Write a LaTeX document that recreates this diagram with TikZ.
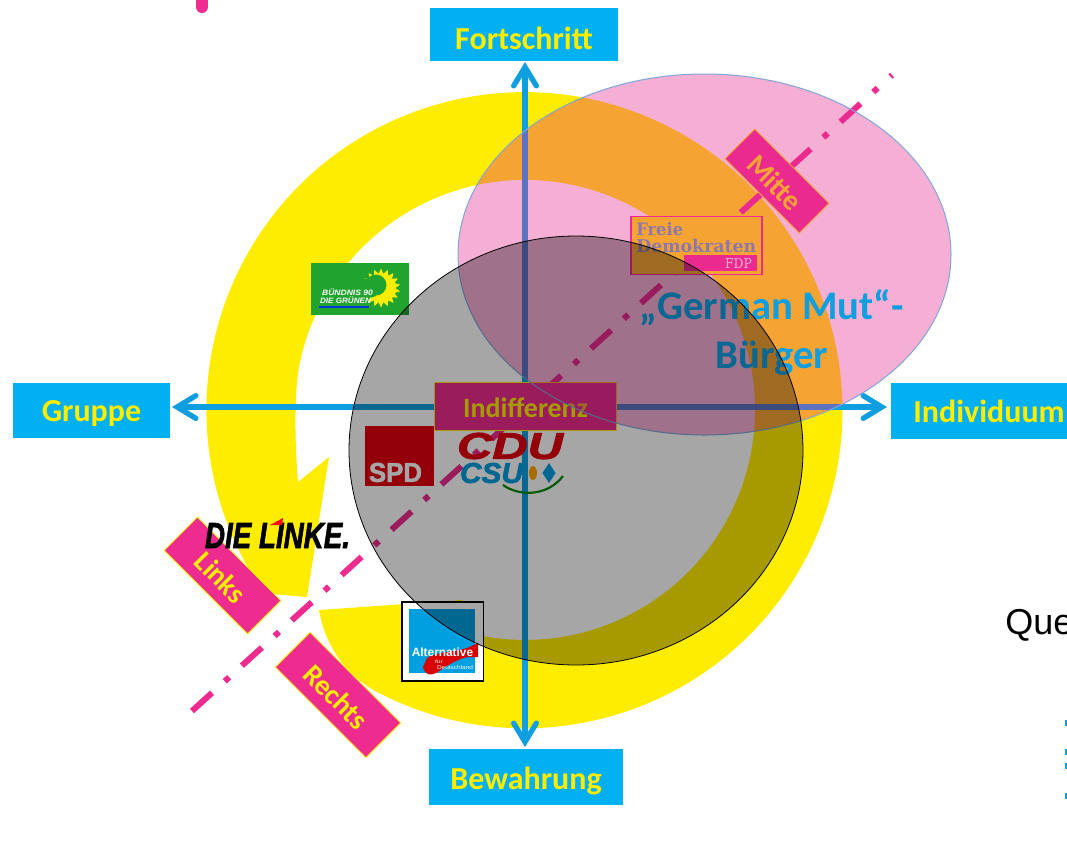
\documentclass[tikz,border=0pt]{standalone}
\usepackage{fontspec}
\usepackage{graphicx}
\setmainfont{Carlito}
\newfontfamily\arialfont{Liberation Sans}
\newfontfamily\heavyfont[BoldFeatures={FakeBold=2},BoldItalicFeatures={FakeBold=2}]{Liberation Sans}
\newfontfamily\slabfont{DejaVu Serif}
\usetikzlibrary{arrows.meta,shapes.geometric}
\definecolor{ringyellow}{HTML}{FFED00}
\definecolor{boxblue}{HTML}{00B0F0}
\definecolor{axisblue}{HTML}{0F9FE0}
\definecolor{mpink}{HTML}{EE2C8F}
\definecolor{ellipsepink}{HTML}{E6278F}
\definecolor{ellipseline}{HTML}{7FA6D6}
\definecolor{grneu}{HTML}{21A42F}
\definecolor{spdred}{HTML}{E3000F}
\definecolor{afdblue}{HTML}{009FDF}
\definecolor{fdptxt}{HTML}{5AA8BE}
\tikzset{
  x=0.75pt,y=-0.75pt,
  axislabel/.style={fill=boxblue,text=ringyellow,font=\fontsize{24}{28}\selectfont\bfseries,inner sep=0pt,anchor=center},
  diaglabel/.style={fill=mpink,draw=ringyellow,line width=0.6pt,text=ringyellow,font=\fontsize{21.5}{24}\selectfont\bfseries,inner sep=0pt,rotate=-45,anchor=center},
  axisline/.style={draw=axisblue,line width=4.2pt,{Straight Barb[length=14pt,width=17pt,line cap=round,line width=4pt]}-{Straight Barb[length=14pt,width=17pt,line cap=round,line width=4pt]}},
  diagline/.style={draw=mpink,line width=4.5pt,dash pattern=on 20.25pt off 12.9pt on 4.5pt off 12.9pt},
  logotext/.style={inner sep=0pt,anchor=center},
}
\newcommand{\lowered}[2]{\raisebox{-#1}[0pt][0pt]{#2}}
\begin{document}
\begin{tikzpicture}
\useasboundingbox (0,0) rectangle (1067,840);
\fill[white] (0,0) rectangle (1067,840);
\clip (0,0) rectangle (1067,840);
% tick at the top
\draw[mpink,line width=9pt,line cap=round] (202,-4) -- (202,7);
% yellow circular arrow
\fill[ringyellow] (319,610) .. controls (326,650) and (350,680) .. (385,696)
  arc (116:-215.2:318) -- (307,597) -- (329,457) -- (298,482)
  .. controls (295,445) and (294,400) .. (298.5,370)
  arc (-170:100.3:230) -- (462,600) -- cycle;
% diagonal
\coordinate (dstart) at (192,711);
\coordinate (dend) at (892,75);
\draw[diagline] (dstart) -- (dend);
% axes
\coordinate (atop) at (525,62);
\coordinate (abot) at (525,747);
\coordinate (alef) at (172,407);
\coordinate (arig) at (887,407);
\draw[axisline] (atop) -- (abot);
\draw[axisline] (alef) -- (arig);
% axis labels
\node[axislabel,minimum width=141pt,minimum height=39.75pt] (fort) at (524,34.5) {\lowered{11.1pt}{Fortschritt}};
\node[axislabel,minimum width=117.75pt,minimum height=41.25pt] (grup) at (91.5,410.5) {\lowered{8.1pt}{Gruppe}};
\node[axislabel,minimum width=147.75pt,minimum height=42pt] (indi) at (989,411) {\lowered{8.8pt}{Individuum}};
\node[axislabel,minimum width=145.5pt,minimum height=42pt] (bewa) at (526,777) {\lowered{9pt}{Bewahrung}};
% Indifferenz
\node[fill=mpink,draw=ringyellow,line width=0.75pt,text=ringyellow,font=\fontsize{21}{24}\selectfont\bfseries,inner sep=0pt,minimum width=137pt,minimum height=36.5pt] (indf) at (525.5,406.5) {\lowered{8.6pt}{Indifferenz}};
% diagonal labels
\node[diaglabel,minimum width=78.75pt,minimum height=31.5pt] (mitte) at (777,181) {\lowered{9.5pt}{Mitte}};
\node[diaglabel,minimum width=88.5pt,minimum height=35.25pt] (links) at (222.5,575.5) {\lowered{9.5pt}{Links}};
\node[diaglabel,minimum width=96pt,minimum height=36.75pt] (rechts) at (338,695) {\lowered{9.5pt}{Rechts}};
% Gruene logo
\node[fill=grneu,minimum width=73.5pt,minimum height=39pt,inner sep=0pt] (gruene) at (360,289) {};
\node[star,star points=18,star point ratio=1.35,fill=ringyellow,minimum size=29pt,inner sep=0pt] (sun) at (381,288) {};
\fill[grneu] (376,285) circle[radius=10.5];
\fill[grneu] (358,279) -- (376,278) -- (376,296) -- (358,302) -- cycle;
\node[logotext,text=white] (g1) at (347.5,292) {\resizebox{38pt}{5pt}{\bfseries\itshape\arialfont BÜNDNIS 90}};
\node[logotext,text=white] (g2) at (345.5,300) {\resizebox{38pt}{5pt}{\bfseries\itshape\arialfont DIE GRÜNEN}};
\fill[blue!75!cyan!85!black] (319,306) rectangle (369,308);
% SPD logo
\node[fill=spdred,minimum width=51.75pt,minimum height=45pt,inner sep=0pt] (spd) at (399.5,456) {};
\node[logotext,text=white] (spdt) at (395.5,472.5) {\resizebox{39.75pt}{14.25pt}{\bfseries\heavyfont SPD}};
% CDU CSU logo
\node[logotext,text=spdred] (cdu) at (510,446) {\resizebox{79.5pt}{19.5pt}{\bfseries\itshape\heavyfont CDU}};
\node[logotext,text=afdblue] (csu) at (491.5,473) {\resizebox{47.25pt}{15pt}{\bfseries\itshape\heavyfont CSU}};
\fill[orange!70!yellow] (533,473) ellipse[x radius=4,y radius=7];
\node[diamond,fill=afdblue,minimum width=10pt,minimum height=15pt,inner sep=0pt] (csur) at (549,473) {};
\draw[green!55!black,line width=1.6pt] (503,485) .. controls (520,497) and (548,496) .. (563,476);
% Die Linke logo
\node[logotext,text=black] (linke) at (277.5,535.5) {\resizebox{108.75pt}{18.75pt}{\bfseries\itshape\heavyfont DIE LINKE.}};
\fill[red!90!orange] (270,525) -- (283,518) -- (282,525) -- cycle;
% AfD logo
\node[fill=white,draw=black,line width=1pt,minimum width=61pt,minimum height=59.25pt,inner sep=0pt] (afd) at (442.5,641.5) {};
\node[fill=afdblue,minimum width=49.5pt,minimum height=48pt,inner sep=0pt] (afdb) at (442,641) {};
\fill[red!85!black] (423,667) .. controls (425,675) and (430,676) .. (436,673)
  .. controls (445,667) and (455,660) .. (467,657) -- (478,657) -- (478,643) -- (467,648)
  .. controls (455,652) and (435,652) .. (427,658) -- cycle;
\node[logotext,text=white] (afdt) at (442.5,652.5) {\resizebox{46pt}{6.5pt}{\bfseries\arialfont Alternative}};
\node[logotext,text=white] (afdf) at (439,662) {\resizebox{6pt}{2.5pt}{\arialfont für}};
\node[logotext,text=white] (afdd) at (455,668) {\resizebox{27pt}{3pt}{\arialfont Deutschland}};
% FDP logo
\node[fill=ringyellow,draw=mpink,line width=1.1pt,minimum width=98.25pt,minimum height=43.5pt,inner sep=0pt] (fdp) at (696.5,245.5) {};
\node[logotext,text=fdptxt,anchor=west] (fr) at (636,229) {\resizebox{35.25pt}{9.75pt}{\bfseries\slabfont Freie}};
\node[logotext,text=fdptxt,anchor=west] (de) at (636,245.5) {\resizebox{90pt}{10pt}{\bfseries\slabfont Demokraten}};
\node[fill=mpink,minimum width=54.75pt,minimum height=12pt,inner sep=0pt] (fdpb) at (720.5,263) {};
\node[logotext,text=white] (fdpt) at (738.5,263) {\resizebox{20pt}{7.5pt}{\slabfont FDP}};
% pink ellipse
\fill[ellipsepink,fill opacity=0.37] (704.5,254.5) ellipse[x radius=246.5,y radius=180.5];
% text
\node[inner sep=0pt,text=axisblue,font=\fontsize{30.5}{36}\selectfont\bfseries] (gm) at (772,308) {„German Mut“-};
\node[inner sep=0pt,text=axisblue,font=\fontsize{30.5}{36}\selectfont\bfseries] (bu) at (772,358) {Bürger};
\draw[ellipseline,line width=0.75pt] (704.5,254.5) ellipse[x radius=246.5,y radius=180.5];
% grey ellipse
\fill[black,fill opacity=0.35] (576,450.5) ellipse[x radius=227,y radius=214.5];
\draw[black,line width=0.6pt] (576,450.5) ellipse[x radius=227,y radius=214.5];
% cut-off source text
\node[anchor=base west,inner sep=0pt,font=\fontsize{27}{30}\selectfont\arialfont] (que) at (1005,634) {Que};
\foreach \yy in {723,752,766,796}{\fill[axisblue] (1065,\yy-3) rectangle (1067,\yy+3);}
\end{tikzpicture}
\end{document}
